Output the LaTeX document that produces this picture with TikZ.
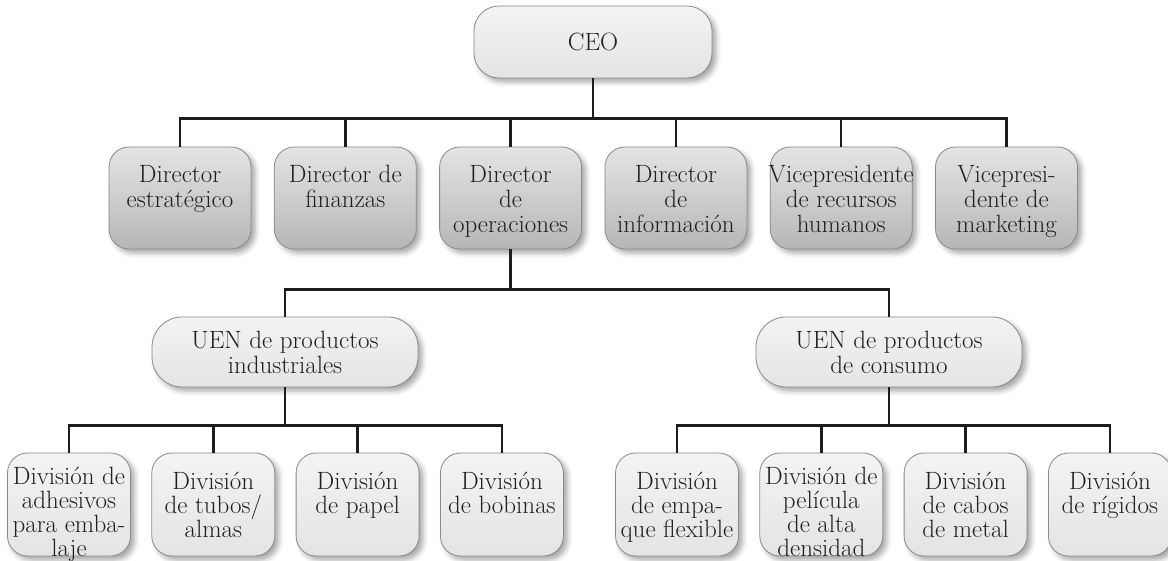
\documentclass[tikz,border=0pt]{standalone}
\usetikzlibrary{positioning, calc, shadows.blur}
\definecolor{boxline}{HTML}{8A8A8A}
\definecolor{dirtop}{HTML}{E4E4E4}
\definecolor{dirbot}{HTML}{B6B6B6}
\definecolor{paletop}{HTML}{F3F3F3}
\definecolor{palebot}{HTML}{E4E4E4}
\definecolor{linkcol}{HTML}{1C1C1C}
\definecolor{inkcol}{HTML}{231F20}
\newcommand\orgfont{\fontsize{25}{25}\selectfont}
\newcommand\divfont{\fontsize{25}{24}\selectfont}

\begin{document}
\begin{tikzpicture}[x=1pt, y=-1pt,
        rbox/.style={draw=boxline, line width=0.8pt, inner sep=0pt, text=inkcol,
          blur shadow={shadow xshift=4pt, shadow yshift=-4pt, shadow blur radius=5pt, shadow opacity=35}},
        ceobox/.style={rbox, rounded corners=25pt, top color=paletop, bottom color=palebot, minimum width=238pt, minimum height=72pt, font=\orgfont},
        dir/.style={rbox, rounded corners=20pt, top color=dirtop, bottom color=dirbot, minimum width=142pt, minimum height=102pt},
        uen/.style={rbox, rounded corners=30pt, top color=paletop, bottom color=palebot, minimum width=266pt, minimum height=70pt, align=center, font=\orgfont},
        div/.style={rbox, rounded corners=20pt, top color=paletop, bottom color=palebot, minimum width=123pt, minimum height=103pt},
        txt/.style={anchor=north, align=center, inner sep=0pt, text=inkcol, font=\orgfont, yshift=-18.5pt},
        dtxt/.style={txt, font=\divfont, yshift=-1pt},
        dtxtfour/.style={dtxt, yshift=5.5pt},
        conn/.style={draw=linkcol, line width=2.4pt}]
      \useasboundingbox (0,0) rectangle (1168,560);
      % top level
      \node[ceobox] (ceo) at (593,42) {CEO};
      % directors
      \node[dir, label={[txt]north:Director\\estratégico}] (estr) at (180,198) {};
      \node[dir, right=22.5pt of estr, label={[txt]north:Director de\\finanzas}] (fin) {};
      \node[dir, right=22.5pt of fin, label={[txt]north:Director\\de\\operaciones}] (ope) {};
      \node[dir, right=22.5pt of ope, label={[txt]north:Director\\de\\información}] (info) {};
      \node[dir, right=22.5pt of info, label={[txt]north:Vicepresidente\\de recursos\\humanos}] (rrhh) {};
      \node[dir, right=22.5pt of rrhh, label={[txt]north:Vicepresi-\\dente de\\marketing}] (mkt) {};
      % business units
      \node[uen] (uind) at (285,352) {UEN de productos\\industriales};
      \node[uen] (ucon) at (889,352) {UEN de productos\\de consumo};
      % divisions
      \node[div, label={[dtxtfour]north:División de\\adhesivos\\para emba-\\laje}] (adh) at (69,504.5) {};
      \node[div, right=20.5pt of adh, label={[dtxt]north:División\\de tubos/\\almas}] (tub) {};
      \node[div, right=20.5pt of tub, label={[dtxt]north:División\\de papel}] (pap) {};
      \node[div, right=20.5pt of pap, label={[dtxt]north:División\\de bobinas}] (bob) {};
      \node[div, label={[dtxt]north:División\\de empa-\\que flexible}] (emp) at (677,504.5) {};
      \node[div, right=20.5pt of emp, label={[dtxtfour]north:División de\\película\\de alta\\densidad}] (pel) {};
      \node[div, right=20.5pt of pel, label={[dtxt]north:División\\de cabos\\de metal}] (cab) {};
      \node[div, right=20.5pt of cab, label={[dtxt]north:División\\de rígidos}] (rig) {};
      % connectors
      \coordinate (b1) at ($(ceo.south)+(0,40)$);
      \coordinate (b2) at ($(ope.south)+(0,40)$);
      \coordinate (b3) at ($(uind.south)+(0,38)$);
      \coordinate (b4) at ($(ucon.south)+(0,38)$);
      \draw[conn] (ceo.south) -- (b1);
      \draw[conn] (estr.north) |- (b1) -| (mkt.north);
      \draw[conn] (fin.north) -- (fin.north |- b1);
      \draw[conn] (ope.north) -- (ope.north |- b1);
      \draw[conn] (info.north) -- (info.north |- b1);
      \draw[conn] (rrhh.north) -- (rrhh.north |- b1);
      \draw[conn] (ope.south) -- (b2);
      \draw[conn] (uind.north) |- (b2) -| (ucon.north);
      \draw[conn] (uind.south) -- (b3);
      \draw[conn] (adh.north) |- (b3) -| (bob.north);
      \draw[conn] (tub.north) -- (tub.north |- b3);
      \draw[conn] (pap.north) -- (pap.north |- b3);
      \draw[conn] (ucon.south) -- (b4);
      \draw[conn] (emp.north) |- (b4) -| (rig.north);
      \draw[conn] (pel.north) -- (pel.north |- b4);
      \draw[conn] (cab.north) -- (cab.north |- b4);
    \end{tikzpicture}
\end{document}
